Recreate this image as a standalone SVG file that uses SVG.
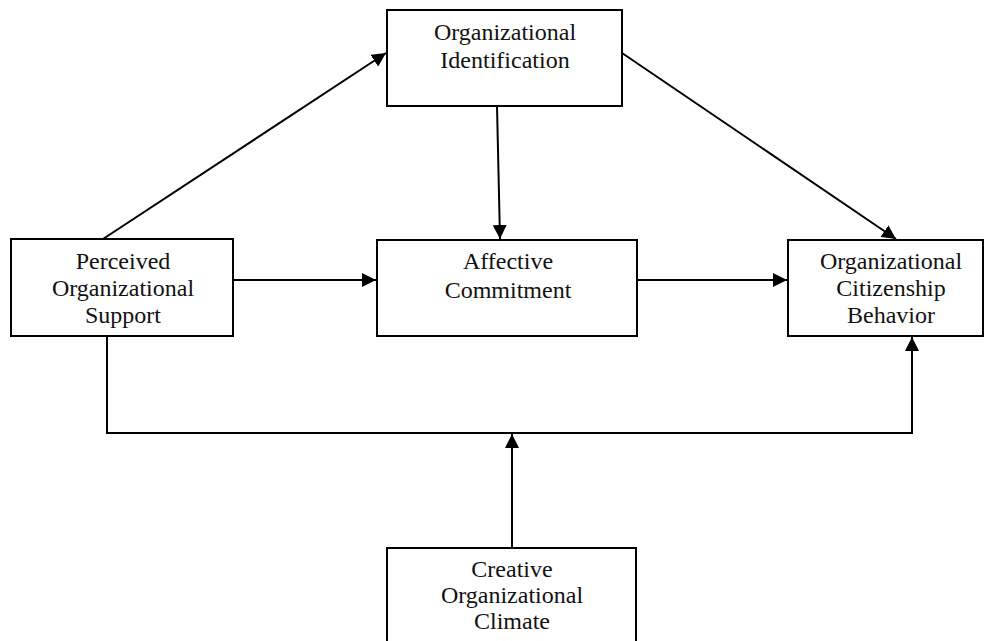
<svg xmlns="http://www.w3.org/2000/svg" width="985" height="641" viewBox="0 0 985 641">
<style>
.box{fill:#fff;stroke:#000;stroke-width:2}
.t{font-family:"Liberation Serif","Times New Roman",serif;font-size:24px;fill:#111;text-anchor:middle}
.c{fill:none;stroke:#000;stroke-width:2}
</style>
<defs>
<marker id="ah" viewBox="0 0 10 10" refX="10" refY="5" markerWidth="14" markerHeight="14" markerUnits="userSpaceOnUse" orient="auto">
<path d="M0,0 L10,5 L0,10 z" fill="#000"/>
</marker>
</defs>
<rect width="985" height="641" fill="#fff"/>
<g id="connectors">
<line class="c" x1="103" y1="239" x2="386" y2="53" marker-end="url(#ah)"/>
<line class="c" x1="497" y1="106" x2="500" y2="239" marker-end="url(#ah)"/>
<line class="c" x1="622" y1="53" x2="896" y2="239" marker-end="url(#ah)"/>
<line class="c" x1="233" y1="280" x2="376" y2="280" marker-end="url(#ah)"/>
<line class="c" x1="637" y1="280" x2="787" y2="280" marker-end="url(#ah)"/>
<polyline class="c" points="107,336 107,433 912,433 912,337" marker-end="url(#ah)"/>
<line class="c" x1="512" y1="548" x2="512" y2="434" marker-end="url(#ah)"/>
</g>
<g id="node-oi">
<rect class="box" x="387" y="10" width="235" height="96"/>
<text class="t" x="505" y="40">Organizational</text>
<text class="t" x="505" y="68">Identification</text>
</g>
<g id="node-pos">
<rect class="box" x="11" y="239" width="222" height="97"/>
<text class="t" x="123" y="269">Perceived</text>
<text class="t" x="123" y="296">Organizational</text>
<text class="t" x="123" y="323">Support</text>
</g>
<g id="node-ac">
<rect class="box" x="377" y="240" width="260" height="96"/>
<text class="t" x="508" y="269">Affective</text>
<text class="t" x="508" y="298">Commitment</text>
</g>
<g id="node-ocb">
<rect class="box" x="788" y="240" width="195" height="96"/>
<text class="t" x="891" y="269">Organizational</text>
<text class="t" x="891" y="296">Citizenship</text>
<text class="t" x="891" y="323">Behavior</text>
</g>
<g id="node-coc">
<rect class="box" x="387" y="548" width="249" height="110"/>
<text class="t" x="512" y="577">Creative</text>
<text class="t" x="512" y="603">Organizational</text>
<text class="t" x="512" y="629">Climate</text>
</g>
</svg>
